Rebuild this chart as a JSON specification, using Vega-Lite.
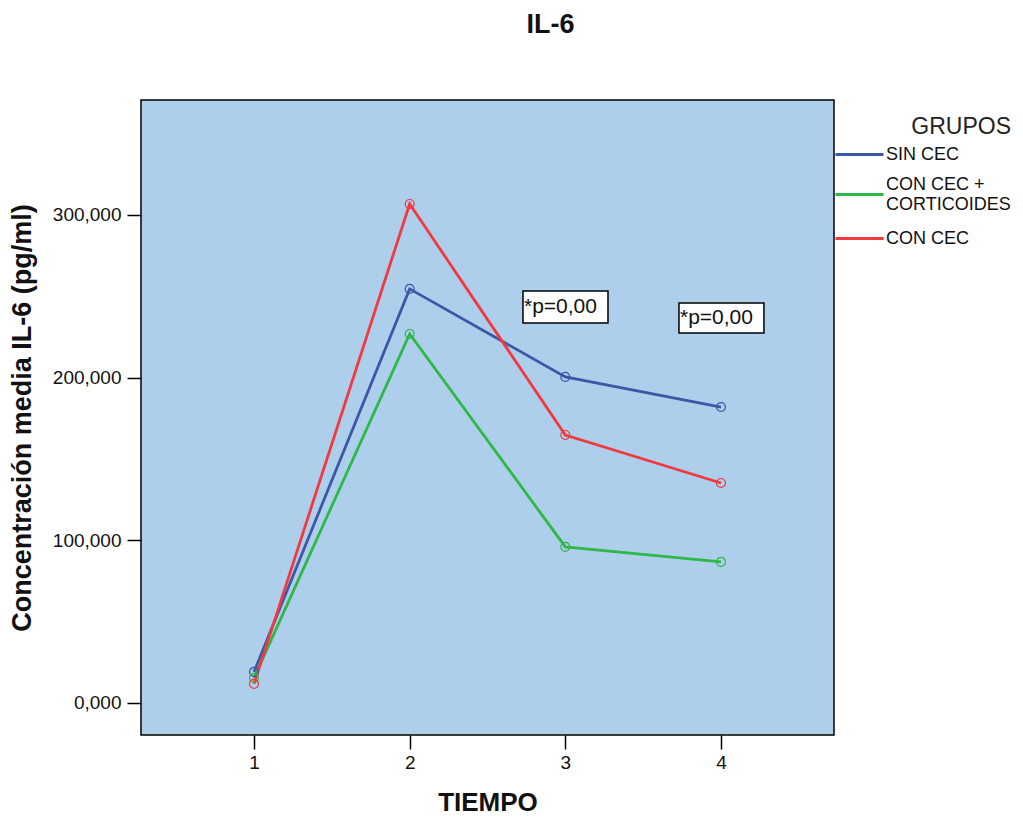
{
  "$schema": "https://vega.github.io/schema/vega-lite/v6.json",
  "autosize": {"type": "none"},
  "width": 693,
  "height": 635,
  "padding": {"left": 141, "top": 100, "right": 189, "bottom": 85},
  "background": "#ffffff",
  "title": {
    "text": "IL-6",
    "fontSize": 27,
    "fontWeight": "bold",
    "font": "Liberation Sans",
    "color": "#111111",
    "anchor": "middle",
    "frame": "group",
    "dx": 63,
    "offset": 61
  },
  "datasets": {
    "medias": [
      {"tiempo": 1, "valor": 19.1, "grupo": "SIN CEC"},
      {"tiempo": 2, "valor": 254.5, "grupo": "SIN CEC"},
      {"tiempo": 3, "valor": 200.4, "grupo": "SIN CEC"},
      {"tiempo": 4, "valor": 181.9, "grupo": "SIN CEC"},
      {"tiempo": 1, "valor": 15.4, "grupo": "CON CEC + CORTICOIDES"},
      {"tiempo": 2, "valor": 226.8, "grupo": "CON CEC + CORTICOIDES"},
      {"tiempo": 3, "valor": 95.9, "grupo": "CON CEC + CORTICOIDES"},
      {"tiempo": 4, "valor": 86.7, "grupo": "CON CEC + CORTICOIDES"},
      {"tiempo": 1, "valor": 11.7, "grupo": "CON CEC"},
      {"tiempo": 2, "valor": 306.7, "grupo": "CON CEC"},
      {"tiempo": 3, "valor": 164.7, "grupo": "CON CEC"},
      {"tiempo": 4, "valor": 135.2, "grupo": "CON CEC"}
    ],
    "notas": [
      {"x1": 2.728, "x2": 3.274, "y1": 233.6, "y2": 253.2, "ym": 243.4, "texto": "*p=0,00"},
      {"x1": 3.730, "x2": 4.276, "y1": 227.4, "y2": 245.9, "ym": 236.6, "texto": "*p=0,00"}
    ]
  },
  "layer": [
    {
      "data": {"name": "medias"},
      "mark": {"type": "line", "strokeWidth": 2.8},
      "encoding": {
        "x": {"field": "tiempo", "type": "quantitative", "title": "TIEMPO",
              "scale": {"domain": [0.274, 4.726], "nice": false, "zero": false},
              "axis": {"values": [1, 2, 3, 4], "format": "d"}},
        "y": {"field": "valor", "type": "quantitative", "title": "Concentración media IL-6 (pg/ml)",
              "scale": {"domain": [-19.7, 370.6], "nice": false, "zero": false},
              "axis": {"values": [0, 100, 200, 300], "labelExpr": "replace(format(datum.value, '.3f'), '.', ',')"}},
        "color": {
          "field": "grupo", "type": "nominal",
          "scale": {"domain": ["SIN CEC", "CON CEC + CORTICOIDES", "CON CEC"],
                    "range": ["#3D56A6", "#2EB847", "#F2393F"]},
          "legend": {
            "title": "GRUPOS",
            "orient": "none",
            "legendX": 693,
            "legendY": 16,
            "symbolType": "M-2,0H2",
            "symbolSize": 576,
            "symbolOffset": 12,
            "symbolStrokeWidth": 3,
            "labelOffset": 13,
            "labelFont": "Liberation Sans",
            "labelFontSize": 18,
            "labelColor": "#111111",
            "labelLimit": 300,
            "labelExpr": "datum.label == 'CON CEC + CORTICOIDES' ? ['CON CEC +', 'CORTICOIDES'] : datum.label",
            "labelLineHeight": 21,
            "rowPadding": 11,
            "titleFont": "Liberation Sans",
            "titleFontSize": 23,
            "titleFontWeight": "normal",
            "titleColor": "#222222",
            "titleAnchor": "end",
            "titlePadding": 2,
            "padding": 0,
            "encode": {
              "labels": {
                "update": {
                  "dy": {"signal": "datum.label == 'CON CEC + CORTICOIDES' ? -10 : 0"}
                }
              }
            }
          }
        },
        "order": {"field": "tiempo"}
      }
    },
    {
      "data": {"name": "medias"},
      "mark": {"type": "point", "shape": "circle", "filled": false, "size": 80, "strokeWidth": 1.2, "opacity": 1},
      "encoding": {
        "x": {"field": "tiempo", "type": "quantitative", "title": "TIEMPO"},
        "y": {"field": "valor", "type": "quantitative", "title": "Concentración media IL-6 (pg/ml)"},
        "color": {"field": "grupo", "type": "nominal", "legend": null}
      }
    },
    {
      "data": {"name": "notas"},
      "mark": {"type": "rect", "fill": "#ffffff", "stroke": "#000000", "strokeWidth": 1.5},
      "encoding": {
        "x": {"field": "x1", "type": "quantitative", "title": "TIEMPO"},
        "x2": {"field": "x2"},
        "y": {"field": "y1", "type": "quantitative", "title": "Concentración media IL-6 (pg/ml)"},
        "y2": {"field": "y2"}
      }
    },
    {
      "data": {"name": "notas"},
      "mark": {"type": "text", "align": "left", "baseline": "middle", "dx": 1, "font": "Liberation Sans", "fontSize": 21, "color": "#111111"},
      "encoding": {
        "x": {"field": "x1", "type": "quantitative", "title": "TIEMPO"},
        "y": {"field": "ym", "type": "quantitative", "title": "Concentración media IL-6 (pg/ml)"},
        "text": {"field": "texto"}
      }
    }
  ],
  "config": {
    "view": {"fill": "#AECFEC", "stroke": "#000000", "strokeWidth": 1.5},
    "axisX": {
      "labelPadding": 4,
      "titlePadding": 17
    },
    "axisY": {
      "labelPadding": 6,
      "titlePadding": 16,
      "titleFontSize": 27
    },
    "axis": {
      "domain": false,
      "grid": false,
      "ticks": true,
      "tickColor": "#000000",
      "tickWidth": 1.5,
      "tickSize": 14,
      "labelFont": "Liberation Sans",
      "labelFontSize": 19,
      "labelColor": "#111111",
      "titleFont": "Liberation Sans",
      "titleFontSize": 26,
      "titleFontWeight": "bold",
      "titleColor": "#111111"
    }
  }
}
